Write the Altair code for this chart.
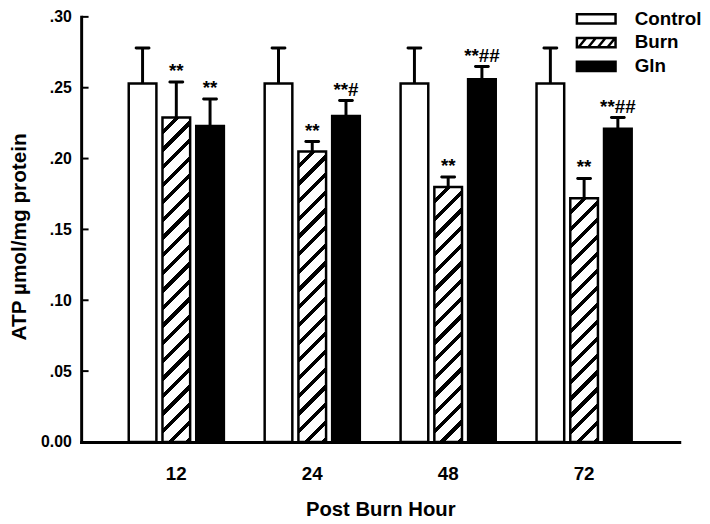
import math
import altair as alt
import pandas as pd

# ---------------- data ----------------
hours = ["12", "24", "48", "72"]
groups = ["Control", "Burn", "Gln"]
control_mean = [0.253, 0.253, 0.253, 0.253]
control_err = [0.025, 0.025, 0.025, 0.025]
burn_mean = [0.229, 0.205, 0.180, 0.172]
burn_err = [0.025, 0.007, 0.007, 0.014]
gln_mean = [0.223, 0.230, 0.256, 0.221]
gln_err = [0.019, 0.011, 0.009, 0.008]
control_sig = ["", "", "", ""]
burn_sig = ["**", "**", "**", "**"]
gln_sig = ["**", "**#", "**##", "**##"]
y_ticks = [0.0, 0.05, 0.10, 0.15, 0.20, 0.25, 0.30]

# ---------------- layout / style ----------------
W, H = 605, 430
Y_MAX = 0.30
PI, PO = 0.30, 0.35
PI2 = 0.18
FONT = "Liberation Sans"

rows = []
for g, means, errs, sigs in [("Control", control_mean, control_err, control_sig),
                             ("Burn", burn_mean, burn_err, burn_sig),
                             ("Gln", gln_mean, gln_err, gln_sig)]:
    for h, m, e, s in zip(hours, means, errs, sigs):
        rows.append({"hour": h, "group": g, "mean": m, "top": m + e, "sig": s})
df = pd.DataFrame(rows)

x_scale = alt.Scale(domain=hours, paddingInner=PI, paddingOuter=PO)
x_axis = alt.Axis(domainWidth=3, domainColor="black", domainCap="square", ticks=False, tickSize=0,
                  labelFont=FONT, labelFontSize=19, labelFontWeight="bold", labelColor="black",
                  labelAngle=0, labelPadding=37.5, labelBaseline="alphabetic",
                  titleFont=FONT, titleFontSize=20.5, titleFontWeight="bold", titleColor="black",
                  titleY=74, titleBaseline="alphabetic", grid=False)
y_scale = alt.Scale(domain=[0, Y_MAX], nice=False)
y_axis = alt.Axis(values=y_ticks, domainWidth=3, domainColor="black", domainCap="square",
                  ticks=False, tickSize=0,
                  labelFont=FONT, labelFontSize=16, labelFontWeight="bold", labelColor="black",
                  labelPadding=10,
                  labelExpr="datum.value == 0 ? '0.00' : replace(format(datum.value, '.2f'), '0.', '.')",
                  titleFont=FONT, titleFontSize=21, titleFontWeight="bold", titleColor="black",
                  titleAngle=270, titleX=-56.5, titleY=222, titleBaseline="alphabetic",
                  titleAlign="center", grid=False)


def X():
    return alt.X("hour:N", scale=x_scale, axis=x_axis, title="Post Burn Hour")


def XO():
    return alt.XOffset("group:N", scale=alt.Scale(domain=groups, paddingInner=PI2, paddingOuter=0))


def Y(field):
    return alt.Y(field, type="quantitative", scale=y_scale, axis=y_axis, title="ATP µmol/mg protein")


def hatch(w, h, period=17.5, black=0.3):
    n = max(1, round((w + h) / period))
    stops = []
    for i in range(n):
        a = i / n
        b = (i + 1 - black) / n
        c = (i + 1) / n
        stops += [{"offset": a, "color": "white"}, {"offset": b, "color": "white"},
                  {"offset": b, "color": "black"}, {"offset": c, "color": "black"}]
    s = (w + h) / (w * w + h * h)
    return {"gradient": "linear", "x1": 0, "y1": 0, "x2": w * s, "y2": h * s, "stops": stops}


step = W / (len(hours) - PI + 2 * PO)
band = step * (1 - PI)
step2 = band / (len(groups) - PI2)
bar_w = step2 * (1 - PI2)

# legend symbols: long boxes (custom paths), the Burn one with hatch strokes
box = "M-2.3,-0.55H2.3V0.55H-2.3Z"
hatched = box + "".join(f"M{x0:.2f},0.55L{x0 + 0.9:.2f},-0.55" for x0 in [-2.1, -0.95, 0.2, 1.35])

legend = alt.Legend(title=None, orient="none", legendX=511, legendY=-8, padding=0,
                    labelFont=FONT, labelFontSize=19, labelFontWeight="bold", labelColor="black",
                    labelOffset=29, rowPadding=4, symbolSize=289, symbolStrokeWidth=2.5,
                    symbolStrokeColor="black", symbolOpacity=1)

legend_pts = alt.Chart(df).transform_calculate(half="datum.mean / 2").mark_point(
    filled=True, opacity=1, strokeWidth=2.5
).encode(
    x=X(), xOffset=XO(), y=Y("half"),
    color=alt.Color("group:N", scale=alt.Scale(domain=groups, range=["white", "white", "black"]), legend=legend),
    stroke=alt.Stroke("group:N", scale=alt.Scale(domain=groups, range=["black", "black", "black"]), legend=legend),
    shape=alt.Shape("group:N", scale=alt.Scale(domain=groups, range=[box, hatched, box]), legend=legend),
    size=alt.value(0),
)

control_bars = alt.Chart(df[df.group == "Control"]).mark_bar(
    fill="white", stroke="black", strokeWidth=2.5
).encode(x=X(), xOffset=XO(), y=Y("mean"))

gln_bars = alt.Chart(df[df.group == "Gln"]).mark_bar(
    fill="black", stroke="black", strokeWidth=2.5
).encode(x=X(), xOffset=XO(), y=Y("mean"))

burn_layers = []
for h, m in zip(hours, burn_mean):
    grad = hatch(bar_w, m / Y_MAX * H)
    burn_layers.append(
        alt.Chart(df[(df.group == "Burn") & (df.hour == h)]).mark_bar(
            fill=grad, stroke="black", strokeWidth=2.5
        ).encode(x=X(), xOffset=XO(), y=Y("mean"))
    )

err_rules = alt.Chart(df).mark_rule(color="black", strokeWidth=3).encode(
    x=X(), xOffset=XO(), y=Y("mean"), y2="top"
)
caps = alt.Chart(df).mark_tick(color="black", thickness=3, size=16, orient="horizontal",
                               cornerRadius=1.5, opacity=1).encode(
    x=X(), xOffset=XO(), y=Y("top")
)
texts = alt.Chart(df[df.sig != ""]).mark_text(
    font=FONT, fontSize=19, fontWeight="bold", baseline="alphabetic", dy=-5, color="black"
).encode(x=X(), xOffset=XO(), y=Y("top"), text="sig:N")

# inward y-axis ticks
yticks = alt.Chart(pd.DataFrame({"v": y_ticks})).mark_tick(
    color="black", thickness=2, size=7, orient="horizontal", opacity=1
).encode(y=Y("v"), x=alt.value(4))

chart = alt.layer(
    legend_pts, control_bars, gln_bars, *burn_layers, err_rules, caps, texts, yticks
).properties(
    width=W, height=H,
    autosize=alt.AutoSizeParams(type="none"),
    padding={"left": 74, "top": 6, "right": 23, "bottom": 78},
).configure_view(stroke=None)

chart.save("out.html", embed_options={"renderer": "svg", "actions": False})
